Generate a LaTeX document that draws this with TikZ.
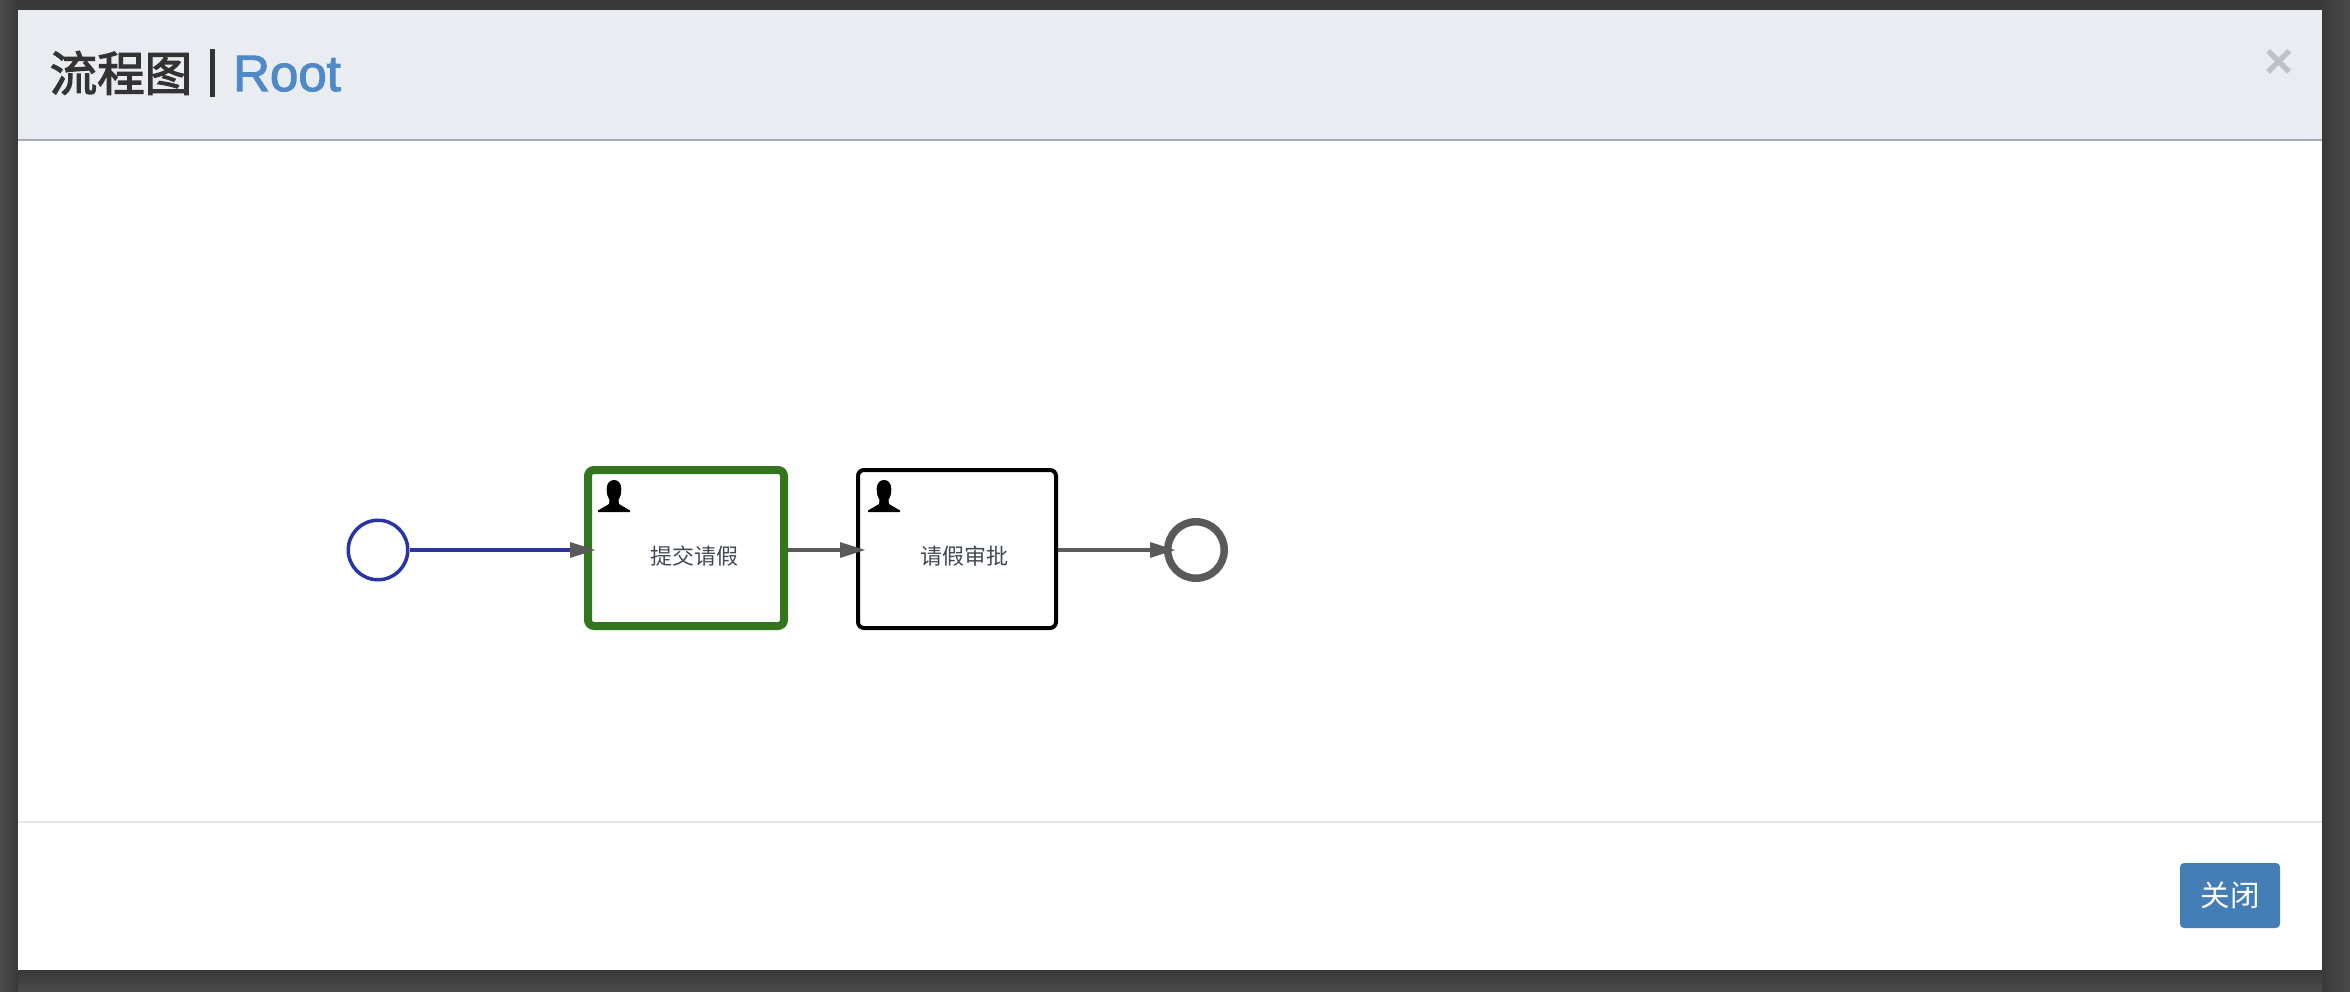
\documentclass[tikz,border=0pt]{standalone}
\usepackage{fontspec}
\setmainfont{Liberation Sans}
\newfontfamily\cjk{Noto Sans CJK SC}
\newfontfamily\cjktitle[FakeBold=2.5]{Noto Sans CJK SC}
\newfontfamily\roottitle[FakeBold=2]{Liberation Sans}
\usetikzlibrary{arrows.meta}
\definecolor{backdrop}{HTML}{4C4C4C}
\definecolor{backdark}{HTML}{393939}
\definecolor{headfill}{HTML}{E9ECF1}
\definecolor{headline}{HTML}{A5ABB9}
\definecolor{footline}{HTML}{E5E5E5}
\definecolor{rootblue}{HTML}{5089C8}
\definecolor{btnblue}{HTML}{447EB6}
\definecolor{closegrey}{HTML}{BEC2C6}
\definecolor{titlegrey}{HTML}{333333}
\definecolor{startblue}{HTML}{2A35A5}
\definecolor{donegreen}{HTML}{34751F}
\definecolor{flowgrey}{HTML}{5A5A5A}
\definecolor{labelgrey}{HTML}{414A54}
\newcommand\person[2]{%
	\fill[black,shift={(#1,#2)}] (0,32) -- (0,30.5) -- (11,24) -- (11.5,20)
		.. controls (9.5,17) and (8.7,14) .. (8.7,9) .. controls (8.7,3) and (12,0) .. (16,0)
		.. controls (20,0) and (23.3,3) .. (23.3,9) .. controls (23.3,14) and (22.5,17) .. (20.5,20)
		-- (21,24) -- (32,30.5) -- (32,32) -- cycle;}
\tikzstyle{every edge} = [draw,-{Triangle[length=26pt,width=14.5pt,color=flowgrey]},line width=4.5pt,flowgrey]
\tikzstyle{startev} = [draw=startblue,circle,line width=3.5pt,minimum size=59.5pt,inner sep=0pt,fill=white]
\tikzstyle{endev} = [draw=flowgrey,circle,line width=7.5pt,minimum size=56.5pt,inner sep=0pt,fill=white]
\tikzstyle{task} = [draw,rounded corners=6pt,inner sep=0pt,fill=white]
\tikzstyle{tasktext} = [text=labelgrey,font=\cjk\fontsize{22pt}{26pt}\selectfont,inner sep=0pt]
\begin{document}
\begin{tikzpicture}[x=1pt,y=-1pt]

% backdrop and dialog
\fill[backdrop] (0,0) rectangle (2350,992);
\shade[top color=backdark,bottom color=backdrop] (0,970) rectangle (2350,992);
\fill[backdark] (0,0) rectangle (2350,10);
\shade[left color=backdrop,right color=backdark] (0,0) rectangle (18,992);
\shade[left color=backdark,right color=backdrop] (2322,0) rectangle (2350,992);
\fill[white] (18,10) rectangle (2322,970);
\fill[headfill] (18,10) rectangle (2322,139);
\fill[headline] (18,139) rectangle (2322,141);
\fill[footline] (18,821) rectangle (2322,823);

% header
\node[anchor=base west,inner sep=0pt,text=titlegrey,font=\cjktitle\fontsize{47.5pt}{50pt}\selectfont] (title) at (49.5,91) {流程图};
\fill[titlegrey] (210,49) rectangle (215,97);
\node[anchor=base west,inner sep=0pt,text=rootblue,font=\roottitle\fontsize{51pt}{52pt}\selectfont] (root) at (233,91) {Root};
\node[text=closegrey,inner sep=0pt,font=\bfseries\fontsize{50pt}{52pt}\selectfont] (close) at (2279,64) {×};

% process
\node[startev] (v1) at (378,550) {};
\node[task,draw=donegreen,line width=8pt,minimum width=196pt,minimum height=156pt] (v2) at (686,548) {};
\node[task,draw=black,line width=4pt,minimum width=198pt,minimum height=158pt] (v3) at (957,549) {};
\node[endev] (v4) at (1196,550) {};
\node[tasktext] (t2) at (694,556) {提交请假};
\node[tasktext] (t3) at (964,556) {请假审批};
\person{598}{480}
\person{868}{480}

\draw (v1.east) edge[startblue,shorten >=-12pt] (v2.west |- v1.east);
\draw (v2.east |- v1.east) edge[shorten >=-10pt] (v3.west |- v1.east);
\draw (v3.east |- v1.east) edge[shorten >=-12pt] (v4.west);

% footer
\node[fill=btnblue,rounded corners=4pt,minimum width=100pt,minimum height=65pt,inner sep=0pt,text=white,font=\cjk\fontsize{29.5pt}{30pt}\selectfont] (btn) at (2230,895.5) {关闭};

\end{tikzpicture}
\end{document}
